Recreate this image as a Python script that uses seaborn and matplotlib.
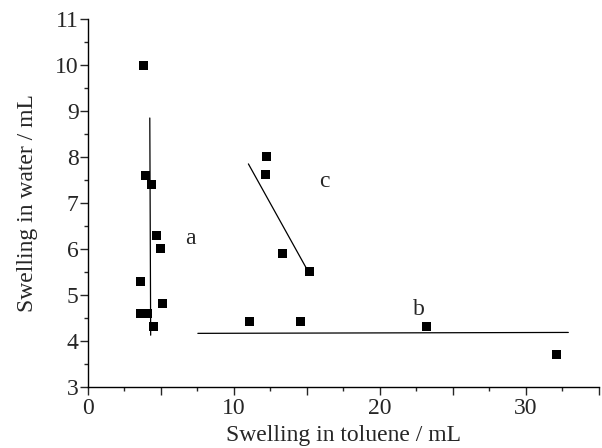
import pandas as pd
import numpy as np
import seaborn as sns
import matplotlib.pyplot as plt
from matplotlib.ticker import MultipleLocator, FuncFormatter

# swelling data (toluene mL, water mL)
a_toluene = [3.8, 3.97, 4.4, 4.7, 5.0, 3.6, 3.6, 4.06, 5.1, 4.5]
a_water = [10.0, 7.6, 7.4, 6.3, 6.0, 5.3, 4.6, 4.6, 4.8, 4.3]
b_toluene = [11.06, 14.54, 23.2, 32.1]
b_water = [4.42, 4.42, 4.31, 3.71]
c_toluene = [12.27, 12.15, 13.36, 15.17]
c_water = [8.01, 7.62, 5.9, 5.5]

# fitted lines (end points)
a_fit_x = [4.25, 4.31]
a_fit_y = [8.85, 4.12]
b_fit_x = [7.54, 32.9]
b_fit_y = [4.16, 4.18]
c_fit_x = [11.0, 14.93]
c_fit_y = [7.85, 5.6]

labels = ['a', 'b', 'c']
label_x = [7.0, 22.65, 16.2]
label_y = [6.23, 4.69, 7.47]

sns.set_style('ticks')
plt.rcParams['font.family'] = ['Liberation Serif', 'DejaVu Serif']

fig = plt.figure(figsize=(6.02, 4.48), dpi=100)
ax = fig.add_axes([0.1457, 0.137, 0.995 - 0.1457, 0.957 - 0.137])

df = pd.DataFrame({'toluene': a_toluene + b_toluene + c_toluene,
                   'water': a_water + b_water + c_water})
sns.scatterplot(x='toluene', y='water', data=df, marker='s', s=42,
                color='black', edgecolor='none', ax=ax)

for fx, fy in [(a_fit_x, a_fit_y), (b_fit_x, b_fit_y), (c_fit_x, c_fit_y)]:
    sns.lineplot(x=fx, y=fy, color='black', linewidth=0.9, sort=False,
                 estimator=None, ax=ax)

for i in range(len(labels)):
    ax.text(label_x[i], label_y[i], labels[i], fontsize=17,
            ha='center', va='center')

ax.set_xlim(0, 35)
ax.set_ylim(3, 11)
ax.xaxis.set_major_locator(MultipleLocator(5))
ax.xaxis.set_minor_locator(MultipleLocator(2.5))
ax.xaxis.set_major_formatter(FuncFormatter(lambda v, p: '%d' % v if v % 10 == 0 else ''))
ax.yaxis.set_major_locator(MultipleLocator(1))
ax.yaxis.set_minor_locator(MultipleLocator(0.5))

ax.tick_params(which='major', direction='out', length=5.5, width=1, labelsize=17)
ax.tick_params(which='minor', direction='out', length=3, width=1)
ax.tick_params(axis='x', which='major', pad=3)
ax.tick_params(axis='y', which='major', pad=1)
sns.despine(ax=ax)
for s in ['left', 'bottom']:
    ax.spines[s].set_linewidth(1)
    ax.spines[s].set_color('black')

ax.set_xlabel('Swelling in toluene / mL', fontsize=17, labelpad=4)
ax.set_ylabel('Swelling in water / mL', fontsize=17, labelpad=12)

plt.savefig('out.png', dpi=100)
